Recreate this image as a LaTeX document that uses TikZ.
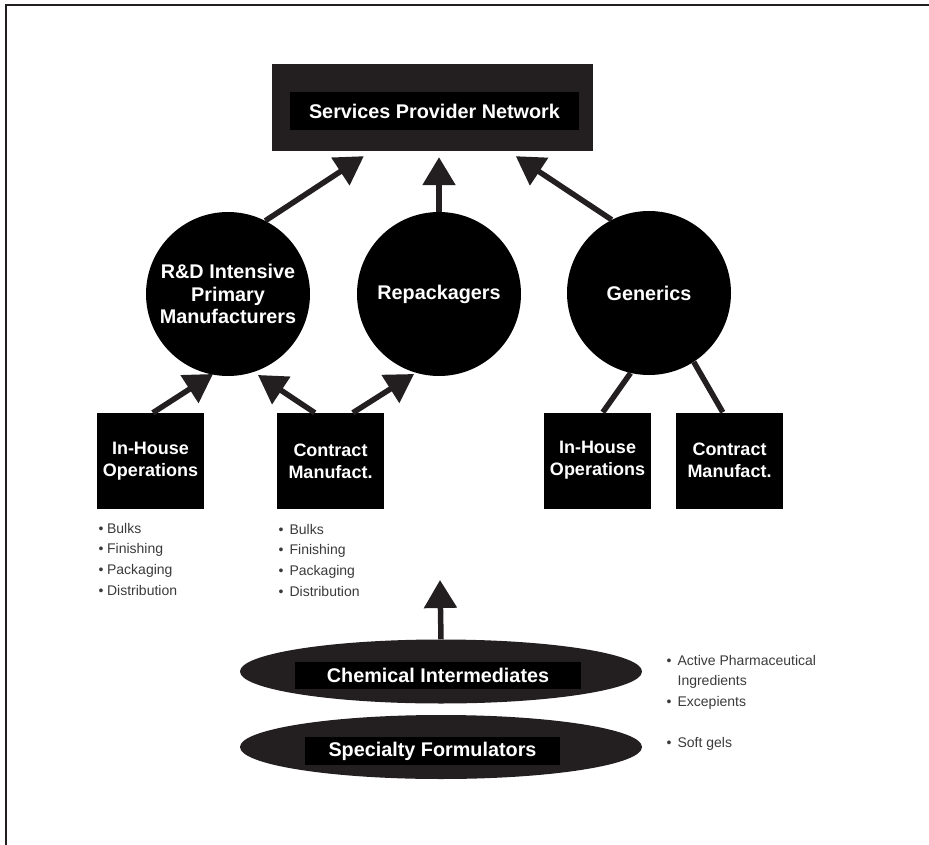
\documentclass[tikz,border=0pt]{standalone}
\usepackage{fontspec}
\setmainfont{Liberation Sans}
\usetikzlibrary{shapes.geometric,arrows.meta,calc}
\definecolor{ink}{HTML}{231F20}
\definecolor{bodytext}{HTML}{3A3A3A}

\begin{document}
\begin{tikzpicture}[x=1pt,y=-1pt,
  title/.style={font=\bfseries\fontsize{19.8}{22.5}\selectfont, text=white, align=center},
  disc/.style={circle, fill=black, minimum size=164pt, inner sep=0pt, title,
    execute at begin node={\vspace*{8pt}}},
  unitbox/.style={rectangle, fill=black, minimum width=107pt, minimum height=96pt,
    inner sep=0pt, font=\bfseries\fontsize{18}{22}\selectfont, text=white, align=center},
  plate/.style={ellipse, fill=ink, minimum width=402pt, minimum height=64pt, inner sep=0pt},
  band/.style={rectangle, fill=black, inner sep=0pt, title},
  flow/.style={draw=ink, line width=5.5pt, -{Triangle[length=28pt,width=32pt]}},
  link/.style={draw=ink, line width=5.5pt},
  notes/.style={font=\fontsize{14}{20.8}\selectfont, text=bodytext, inner sep=0pt, anchor=base west}
]
\useasboundingbox (0,0) rectangle (929,845);

% page frame (top and left rules)
\draw[line width=1.8pt, draw=ink] (929,5) -- (6,5) -- (6,845);

% top-level network
\node[rectangle, fill=ink, minimum width=321pt, minimum height=87pt, inner sep=0pt] (spn) at (432.5,107.5) {};
\node[band, minimum width=289pt, minimum height=38pt] (spnlabel) at (434.5,111) {Services Provider Network};

% manufacturer groups
\node[disc] (rd) at (228,294) {R\&D Intensive\\Primary\\Manufacturers};
\node[disc] (rep) at (439,294) {Repackagers};
\node[disc] (gen) at (649,293) {Generics};

% operations boxes
\node[unitbox] (ihA) at (150.5,461) {In-House\\Operations};
\node[unitbox] (cmA) at (330.5,461) {Contract\\Manufact.};
\node[unitbox] (ihB) at (597.5,460.5) {In-House\\Operations};
\node[unitbox] (cmB) at (729.5,460.5) {Contract\\Manufact.};

% supplier layers
\node[plate] (chem) at (441,671.5) {};
\node[band, minimum width=286pt, minimum height=27pt] (chemlabel) at (438,675.5) {Chemical Intermediates};
\node[plate] (spec) at (441,747) {};
\node[band, minimum width=255pt, minimum height=28pt] (speclabel) at (432.5,751) {Specialty Formulators};

% connectors
\draw[flow] (rd.63) -- ($(spn.south west)+(92,5)$);
\draw[flow] (rep.north) -- ($(rep.north |- spn.south)+(0,6)$);
\draw[flow] (gen.117) -- ($(spn.south west)+(244,5)$);
\draw[flow] ($(ihA.north west)+(56,0)$) -- ($(rd.center)+(-15,80)$);
\draw[flow] ($(cmA.north west)+(38,0)$) -- ($(rd.center)+(30,81)$);
\draw[flow] ($(cmA.north west)+(76,0)$) -- ($(rep.center)+(-25,80)$);
\draw[link] (gen.-103) -- ($(ihB.north west)+(59,0)$);
\draw[link] (gen.-57) -- ($(cmB.north west)+(47,0)$);
\coordinate (risetip) at (440,580);
\draw[flow] (chem.north) -- (risetip);

% bullet notes
\node[notes] (ihAnotes) at (98.5,533) {\begin{tabular}[t]{@{}l@{\hspace{3.5pt}}l@{}}•&Bulks\\•&Finishing\\•&Packaging\\•&Distribution\end{tabular}};
\node[notes] (cmAnotes) at (278.5,534) {\begin{tabular}[t]{@{}l@{\hspace{6pt}}l@{}}•&Bulks\\•&Finishing\\•&Packaging\\•&Distribution\end{tabular}};
\node[notes] (chemnotes) at (666.5,665) {\begin{tabular}[t]{@{}l@{\hspace{6pt}}l@{}}•&Active Pharmaceutical\\&Ingredients\\•&Excepients\end{tabular}};
\node[notes] (specnotes) at (666.5,747) {\begin{tabular}[t]{@{}l@{\hspace{6pt}}l@{}}•&Soft gels\end{tabular}};
\end{tikzpicture}
\end{document}
